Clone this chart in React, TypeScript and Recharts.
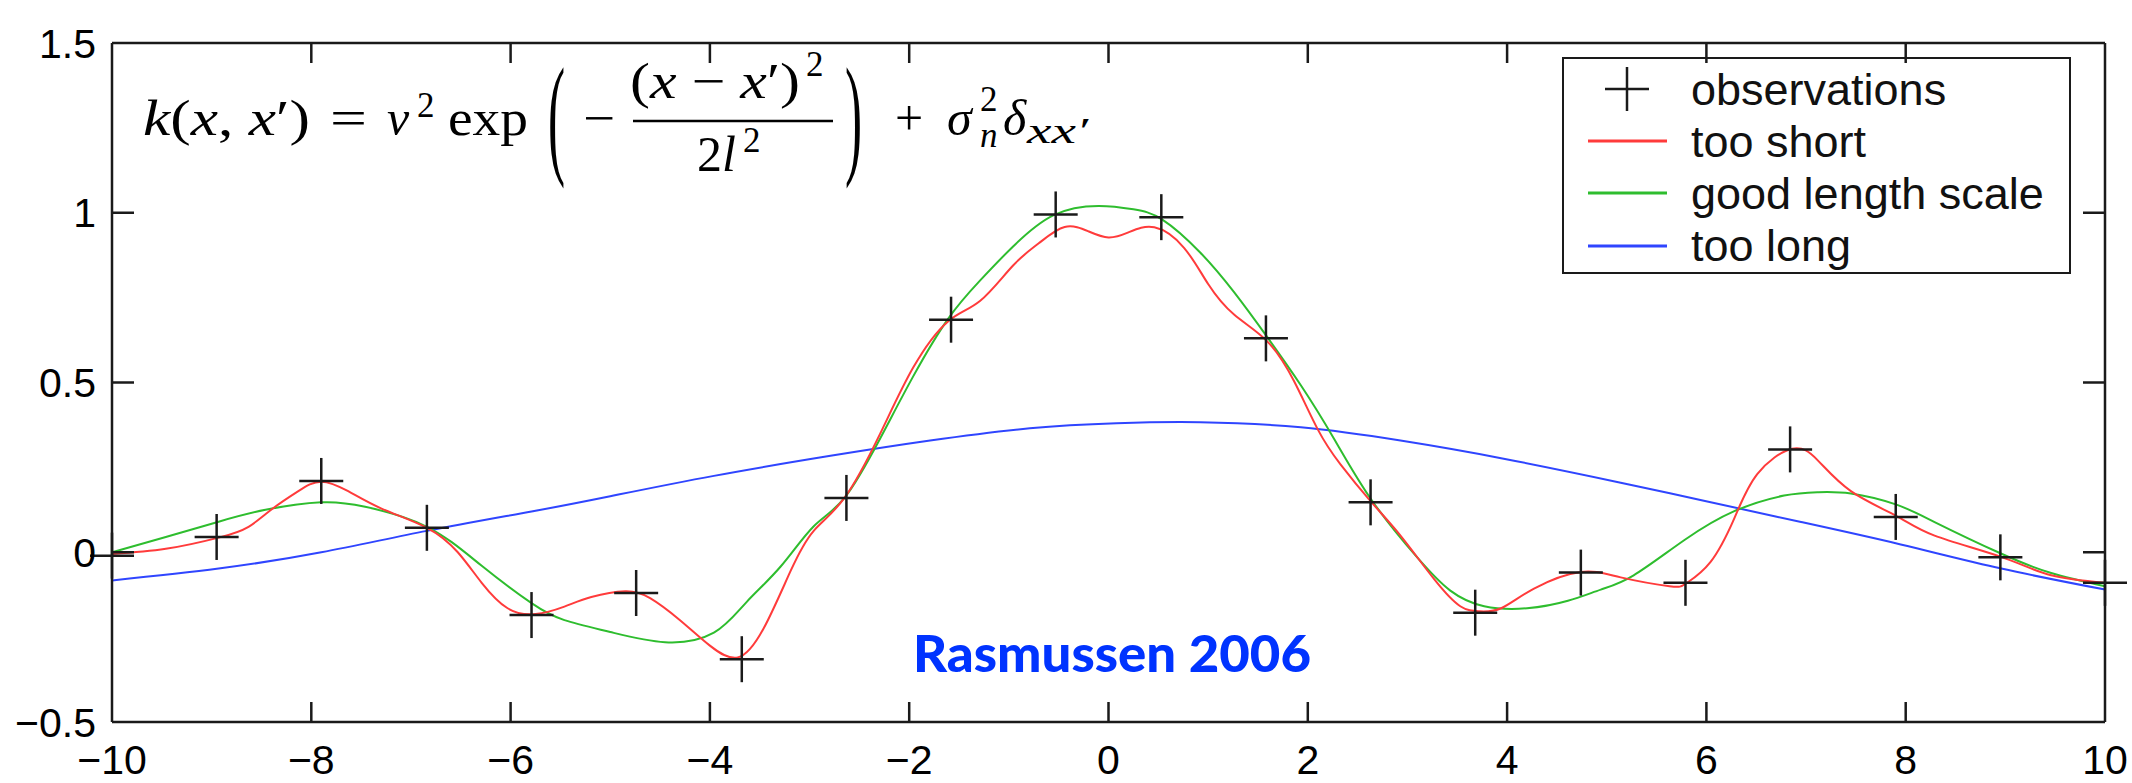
import {
  ComposedChart,
  Line,
  Scatter,
  XAxis,
  YAxis,
  Legend,
} from "recharts";

const W = 2132;
const H = 783;

// noisy observations of the latent function
const observations: [number, number][] = [
  [-10, -0.01], [-8.95, 0.045], [-7.9, 0.21], [-6.84, 0.072], [-5.79, -0.185],
  [-4.74, -0.12], [-3.68, -0.315], [-2.63, 0.16], [-1.58, 0.685], [-0.53, 0.995],
  [0.53, 0.987], [1.58, 0.63], [2.63, 0.147], [3.68, -0.178], [4.74, -0.06],
  [5.79, -0.09], [6.84, 0.303], [7.9, 0.104], [8.95, -0.015], [10, -0.09],
];

// posterior mean, length scale too short
const tooShort: [number, number][] = [
  [-10, -0.005], [-9.46, 0.01], [-8.93, 0.043], [-8.63, 0.075], [-8.39, 0.128],
  [-8.13, 0.18], [-7.9, 0.208], [-7.63, 0.18], [-7.29, 0.128], [-6.84, 0.072],
  [-6.53, 0.0], [-6.29, -0.09], [-6.03, -0.165], [-5.75, -0.182], [-5.46, -0.16],
  [-5.19, -0.132], [-4.85, -0.115], [-4.6, -0.135], [-4.3, -0.2], [-4.0, -0.275],
  [-3.72, -0.31], [-3.46, -0.224], [-3.19, -0.055], [-2.96, 0.0625], [-2.65, 0.16],
  [-2.29, 0.35], [-1.96, 0.544], [-1.61, 0.68], [-1.29, 0.74], [-0.96, 0.844],
  [-0.7, 0.91], [-0.44, 0.958], [-0.2, 0.945], [0, 0.927], [0.2, 0.942],
  [0.46, 0.957], [0.76, 0.896], [1.0, 0.79], [1.26, 0.7], [1.59, 0.622],
  [1.86, 0.505], [2.1, 0.362], [2.33, 0.258], [2.64, 0.147], [2.93, 0.049],
  [3.27, -0.08], [3.53, -0.159], [3.72, -0.174], [3.94, -0.165], [4.27, -0.107],
  [4.74, -0.058], [5.14, -0.074], [5.63, -0.1], [5.8, -0.091], [6.04, -0.029],
  [6.28, 0.1], [6.51, 0.23], [6.86, 0.305], [7.12, 0.27], [7.45, 0.18],
  [7.9, 0.108], [8.29, 0.049], [8.95, -0.013], [9.46, -0.068], [10, -0.09],
];

// posterior mean, good length scale
const goodScale: [number, number][] = [
  [-10, 0.0], [-9.46, 0.045], [-8.93, 0.09], [-8.46, 0.125], [-7.9, 0.147],
  [-7.46, 0.134], [-6.84, 0.075], [-6.29, -0.04], [-5.79, -0.15], [-5.46, -0.2],
  [-5.0, -0.235], [-4.45, -0.265], [-3.96, -0.237], [-3.63, -0.146], [-3.29, -0.042],
  [-2.96, 0.076], [-2.65, 0.16], [-2.29, 0.336], [-1.96, 0.518], [-1.61, 0.6875],
  [-1.29, 0.8], [-0.96, 0.9], [-0.55, 0.993], [-0.1, 1.02], [0.25, 1.01],
  [0.54, 0.98], [0.92, 0.883], [1.26, 0.766], [1.59, 0.635], [1.93, 0.492],
  [2.26, 0.336], [2.64, 0.154], [3.1, -0.016], [3.43, -0.113], [3.77, -0.159],
  [4.2, -0.165], [4.61, -0.143], [4.94, -0.11], [5.27, -0.068], [5.78, 0.036],
  [6.28, 0.121], [6.78, 0.167], [7.12, 0.177], [7.45, 0.173], [7.9, 0.141],
  [8.29, 0.089], [8.95, -0.003], [9.46, -0.061], [10, -0.1],
];

// posterior mean, length scale too long
const tooLong: [number, number][] = [
  [-10, -0.083], [-8.93, -0.048], [-7.9, 0.0], [-6.84, 0.063], [-5.79, 0.12],
  [-5.0, 0.165], [-3.96, 0.225], [-2.79, 0.284], [-1.79, 0.329], [-0.79, 0.365],
  [0.08, 0.38], [0.92, 0.383], [1.93, 0.368], [2.93, 0.329], [3.94, 0.277],
  [5.14, 0.205], [5.94, 0.154], [6.95, 0.089], [7.95, 0.023], [8.96, -0.048],
  [10, -0.11],
];

const xTicks = [-10, -8, -6, -4, -2, 0, 2, 4, 6, 8, 10];
const yTicks = [-0.5, 0, 0.5, 1, 1.5];
const X_DOMAIN: [number, number] = [-10, 10];
const Y_DOMAIN: [number, number] = [-0.5, 1.5];

const legendLabels = ["observations", "too short", "good length scale", "too long"];

const RED = "#ff3b3b";
const GREEN = "#2ebd2e";
const BLUE = "#2f45ff";
const INK = "#1a1a1a";
const SANS = "'Liberation Sans', Arial, Helvetica, sans-serif";
const SERIF = "'Liberation Serif', 'DejaVu Serif', serif";

// chart box geometry
const MARGIN = { top: 43, right: 27, bottom: 0, left: 0 };
const Y_AXIS_W = 112;
const X_AXIS_H = 61;
const PLOT = {
  left: MARGIN.left + Y_AXIS_W,
  right: W - MARGIN.right,
  top: MARGIN.top,
  bottom: H - MARGIN.bottom - X_AXIS_H,
};
const X_TICK_LEN = 20;
const Y_TICK_LEN = 22;

// pixel position of a tick value along the box edges
const tickX = (v: number) =>
  PLOT.left + ((v - X_DOMAIN[0]) / (X_DOMAIN[1] - X_DOMAIN[0])) * (PLOT.right - PLOT.left);
const tickY = (v: number) =>
  PLOT.bottom - ((v - Y_DOMAIN[0]) / (Y_DOMAIN[1] - Y_DOMAIN[0])) * (PLOT.bottom - PLOT.top);

const toPoints = (pts: [number, number][]) => pts.map(([x, y]) => ({ x, y }));
const fmt = (v: number) => (v < 0 ? `\u2212${Math.abs(v)}` : `${v}`);

const axisStroke = { stroke: INK, strokeWidth: 2.5 };
const tickFont = { fill: "#000", fontSize: 41, fontFamily: SANS };

const Cross = (props: any) => {
  const { cx, cy } = props;
  if (cx == null || cy == null) return null;
  return (
    <g stroke={INK} strokeWidth={2.5}>
      <line x1={cx - 22} x2={cx + 22} y1={cy} y2={cy} />
      <line x1={cx} x2={cx} y1={cy - 23} y2={cy + 23} />
    </g>
  );
};

// inward tick marks on all four edges of the box
const BoxTicks = () => (
  <g stroke={INK} strokeWidth={2.5}>
    {xTicks.slice(1, -1).map((v) => (
      <g key={`x${v}`}>
        <line x1={tickX(v)} x2={tickX(v)} y1={PLOT.bottom} y2={PLOT.bottom - X_TICK_LEN} />
        <line x1={tickX(v)} x2={tickX(v)} y1={PLOT.top} y2={PLOT.top + X_TICK_LEN} />
      </g>
    ))}
    {yTicks.slice(1, -1).map((v) => (
      <g key={`y${v}`}>
        <line x1={PLOT.left} x2={PLOT.left + Y_TICK_LEN} y1={tickY(v)} y2={tickY(v)} />
        <line x1={PLOT.right} x2={PLOT.right - Y_TICK_LEN} y1={tickY(v)} y2={tickY(v)} />
      </g>
    ))}
  </g>
);

const LegendBox = () => {
  const lineColors = [null, RED, GREEN, BLUE];
  return (
    <div
      style={{
        width: 509,
        height: 217,
        boxSizing: "border-box",
        border: `2.5px solid ${INK}`,
        background: "#fff",
        position: "relative",
        fontFamily: SANS,
        fontSize: 45,
        color: "#111",
      }}
    >
      {legendLabels.map((label, i) => {
        const color = lineColors[i];
        return (
          <div
            key={label}
            style={{
              position: "absolute",
              left: 0,
              top: 30 + i * 52.2 - 26,
              height: 52,
              display: "flex",
              alignItems: "center",
            }}
          >
            <svg width={127} height={52}>
              {color ? (
                <line x1={24} x2={103} y1={26} y2={26} stroke={color} strokeWidth={3} />
              ) : (
                <g stroke={INK} strokeWidth={2.5}>
                  <line x1={41} x2={85} y1={26} y2={26} />
                  <line x1={63} x2={63} y1={4} y2={48} />
                </g>
              )}
            </svg>
            <span style={{ lineHeight: 1, whiteSpace: "nowrap" }}>{label}</span>
          </div>
        );
      })}
    </div>
  );
};

const Formula = () => (
  <g fontFamily={SERIF} fill="#000">
    <text x={143} y={135} fontSize={50} textLength={167} lengthAdjust="spacingAndGlyphs">
      <tspan fontStyle="italic">k</tspan>(<tspan fontStyle="italic">x</tspan>,{" "}
      <tspan fontStyle="italic">x</tspan>′)
    </text>
    <text x={330} y={135} fontSize={50} textLength={37} lengthAdjust="spacingAndGlyphs">=</text>
    <text x={387} y={135} fontSize={50} fontStyle="italic">ν</text>
    <text x={417} y={117} fontSize={35}>2</text>
    <text x={448} y={135} fontSize={50} textLength={80} lengthAdjust="spacingAndGlyphs">exp</text>
    <text transform="translate(548,160) scale(0.8,2.1)" fontSize={64}>(</text>
    <text x={583} y={135} fontSize={50} textLength={32} lengthAdjust="spacingAndGlyphs">−</text>
    <text x={630} y={98} fontSize={50} textLength={170} lengthAdjust="spacingAndGlyphs">
      (<tspan fontStyle="italic">x</tspan> − <tspan fontStyle="italic">x</tspan>′)
    </text>
    <text x={806} y={76} fontSize={35}>2</text>
    <line x1={633} x2={833} y1={121} y2={121} stroke="#000" strokeWidth={2.5} />
    <text x={697} y={171} fontSize={50}>
      2<tspan fontStyle="italic">l</tspan>
    </text>
    <text x={743} y={152} fontSize={35}>2</text>
    <text transform="translate(845,160) scale(0.8,2.1)" fontSize={64}>)</text>
    <text x={895} y={135} fontSize={50}>+</text>
    <text x={947} y={135} fontSize={50} fontStyle="italic">σ</text>
    <text x={980} y={111} fontSize={35}>2</text>
    <text x={980} y={147} fontSize={35} fontStyle="italic">n</text>
    <text x={1003} y={135} fontSize={50} fontStyle="italic">δ</text>
    <text x={1027} y={143} fontSize={35} fontStyle="italic" textLength={61} lengthAdjust="spacingAndGlyphs">
      xx′
    </text>
  </g>
);

const App = () => {
  return (
    <div style={{ position: "absolute", left: 0, top: 0, width: W, height: H, background: "#fff" }}>
      <ComposedChart width={W} height={H} margin={MARGIN}>
        <XAxis
          xAxisId="x"
          dataKey="x"
          type="number"
          domain={X_DOMAIN}
          ticks={xTicks}
          interval={0}
          tickFormatter={fmt}
          height={X_AXIS_H}
          tickSize={0}
          tickMargin={23}
          tickLine={false}
          axisLine={axisStroke}
          tick={tickFont}
        />
        <YAxis
          yAxisId="y"
          dataKey="y"
          type="number"
          domain={Y_DOMAIN}
          ticks={yTicks}
          interval={0}
          tickFormatter={fmt}
          width={Y_AXIS_W}
          tickSize={0}
          tickMargin={16}
          tickLine={false}
          axisLine={axisStroke}
          tick={tickFont}
        />

        {/* top and right edges of the box */}
        <XAxis
          xAxisId="xt"
          orientation="top"
          type="number"
          domain={X_DOMAIN}
          allowDataOverflow
          mirror
          tick={false}
          tickLine={false}
          axisLine={axisStroke}
        />
        <YAxis
          yAxisId="yr"
          orientation="right"
          type="number"
          domain={Y_DOMAIN}
          allowDataOverflow
          mirror
          tick={false}
          tickLine={false}
          axisLine={axisStroke}
        />

        <Line
          xAxisId="x"
          yAxisId="y"
          data={toPoints(tooLong)}
          dataKey="y"
          type="natural"
          stroke={BLUE}
          strokeWidth={2}
          dot={false}
          isAnimationActive={false}
        />
        <Line
          xAxisId="x"
          yAxisId="y"
          data={toPoints(goodScale)}
          dataKey="y"
          type="natural"
          stroke={GREEN}
          strokeWidth={2}
          dot={false}
          isAnimationActive={false}
        />
        <Line
          xAxisId="x"
          yAxisId="y"
          data={toPoints(tooShort)}
          dataKey="y"
          type="natural"
          stroke={RED}
          strokeWidth={2}
          dot={false}
          isAnimationActive={false}
        />
        <Scatter
          xAxisId="x"
          yAxisId="y"
          data={toPoints(observations)}
          shape={Cross}
          isAnimationActive={false}
        />

        <Legend
          layout="vertical"
          align="center"
          verticalAlign="middle"
          content={() => <LegendBox />}
          wrapperStyle={{ top: 57, left: 1562, width: 509, height: 217 }}
        />
      </ComposedChart>

      <svg
        width={W}
        height={H}
        style={{ position: "absolute", left: 0, top: 0, pointerEvents: "none" }}
      >
        <BoxTicks />
        <Formula />
        <text
          x={913}
          y={672}
          fontFamily="Lato, 'Open Sans', sans-serif"
          fontWeight={900}
          fontSize={52}
          fill="#0033ff"
          textLength={398}
          lengthAdjust="spacingAndGlyphs"
        >
          Rasmussen 2006
        </text>
      </svg>
    </div>
  );
};

export default App;
